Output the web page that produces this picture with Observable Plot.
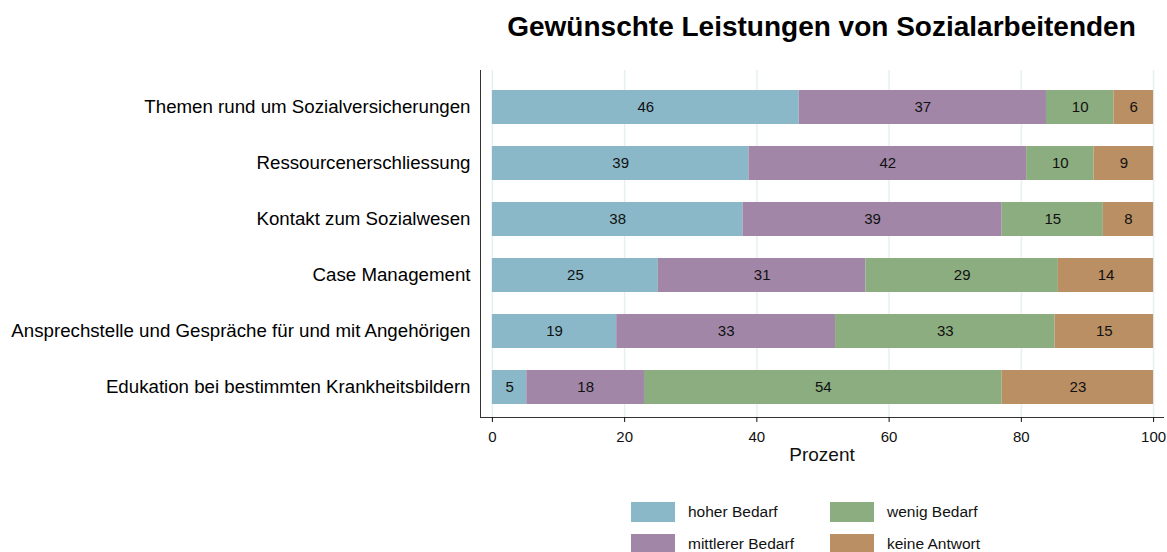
<!DOCTYPE html>
<html>
<head>
<meta charset="utf-8">
<script src="https://cdn.jsdelivr.net/npm/d3@7"></script>
<script src="https://cdn.jsdelivr.net/npm/@observablehq/plot@0.6"></script>
<style>
  body { margin: 0; background: #fff; font-family: "Liberation Sans", Arial, sans-serif; }
  #wrap { position: relative; width: 1167px; height: 552px; }
  #title { position: absolute; top: 11px; left: 480px; width: 683px; text-align: center;
           font-weight: bold; font-size: 28px; color: #000; }
  #chart { position: absolute; top: 0; left: 0; }
  #legend { position: absolute; top: 502px; left: 631px; display: grid;
            grid-template-columns: 199px 160px; row-gap: 12px; font-size: 15.5px; color: #111; }
  .item { display: flex; align-items: center; height: 20px; }
  .sw { width: 44px; height: 20px; margin-right: 13px; }
</style>
</head>
<body>
<div id="wrap">
  <div id="chart"></div>
  <div id="title">Gewünschte Leistungen von Sozialarbeitenden</div>
  <div id="legend"></div>
</div>
<script>
const categories = [
  "Themen rund um Sozialversicherungen",
  "Ressourcenerschliessung",
  "Kontakt zum Sozialwesen",
  "Case Management",
  "Ansprechstelle und Gespräche für und mit Angehörigen",
  "Edukation bei bestimmten Krankheitsbildern"
];
const series = ["hoher Bedarf", "mittlerer Bedarf", "wenig Bedarf", "keine Antwort"];
const colors = ["#8ab8c8", "#a186a8", "#8bad7f", "#b98f63"];
const hoher    = [46.4, 38.8, 37.9, 25.1, 18.8, 5.2];
const mittlerer = [37.4, 42.0, 39.2, 31.4, 33.1, 17.8];
const wenig    = [10.2, 10.2, 15.3, 29.1, 33.2, 54.1];
const keine    = [6.0, 9.0, 7.6, 14.4, 14.9, 22.9];
const xTicks = [0, 20, 40, 60, 80, 100];

const valuesBySeries = [hoher, mittlerer, wenig, keine];
const data = [];
categories.forEach((c, i) => {
  series.forEach((s, j) => data.push({cat: c, series: s, value: valuesBySeries[j][i]}));
});

const plot = Plot.plot({
  width: 1167,
  height: 470,
  marginLeft: 480,
  marginRight: 4,
  marginTop: 70,
  marginBottom: 53,
  style: {fontFamily: "'Liberation Sans', Arial, sans-serif", background: "#fff"},
  x: {domain: [-1.8, 101.5], ticks: xTicks},
  y: {domain: categories, paddingInner: 0.4, paddingOuter: 0.276, align: 0.61},
  color: {domain: series, range: colors},
  marks: [
    Plot.ruleX(xTicks, {stroke: "#e6eff2", strokeWidth: 1.5}),
    Plot.barX(data, {x: "value", y: "cat", fill: "series", order: series}),
    Plot.text(data, Plot.stackX({x: "value", y: "cat", z: "series", order: series,
      text: d => Math.round(d.value), fill: "#111", fontSize: 15})),
    Plot.frame({anchor: "left", stroke: "#333"}),
    Plot.frame({anchor: "bottom", stroke: "#333"}),
    Plot.axisX(xTicks, {tickSize: 5, tickPadding: 9, fontSize: 15, label: null, color: "#111"}),
    Plot.axisY({tickSize: 0, tickPadding: 10, fontSize: 18.7, label: null, color: "#000"}),
    Plot.text(["Prozent"], {frameAnchor: "bottom", dy: 43, fontSize: 19, fill: "#111"})
  ]
});
document.getElementById("chart").appendChild(plot);

const legend = document.getElementById("legend");
const legendOrder = [0, 2, 1, 3];
legendOrder.forEach(i => {
  const it = document.createElement("div");
  it.className = "item";
  const sw = document.createElement("div");
  sw.className = "sw";
  sw.style.background = colors[i];
  const t = document.createElement("span");
  t.textContent = series[i];
  it.appendChild(sw);
  it.appendChild(t);
  legend.appendChild(it);
});
</script>
</body>
</html>
